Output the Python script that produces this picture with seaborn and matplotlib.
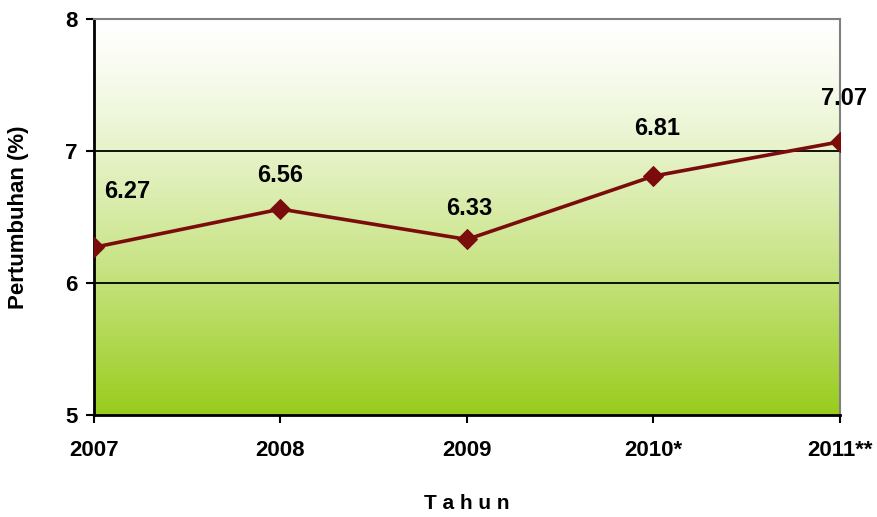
import numpy as np
import pandas as pd
import matplotlib
matplotlib.use("Agg")
import matplotlib.pyplot as plt
import seaborn as sns

years = ["2007", "2008", "2009", "2010*", "2011**"]
growth = [6.27, 6.56, 6.33, 6.81, 7.07]
yticks = [5, 6, 7, 8]

# label offsets in pixels (styling only)
label_dx = [33, 0, 2, 4, 4]
label_dy = [44, 22, 19, 36, 32]

sns.set_theme(style="white")
plt.rcParams["font.family"] = ["Liberation Sans", "DejaVu Sans"]
plt.rcParams["text.color"] = "black"
plt.rcParams["axes.labelcolor"] = "black"
plt.rcParams["xtick.color"] = "black"
plt.rcParams["ytick.color"] = "black"

df = pd.DataFrame({"x": np.arange(len(years)), "y": growth})

fig = plt.figure(figsize=(8.78, 5.17), dpi=100)
ax = fig.add_axes([94/878, 1-415/517, (840-94)/878, (415-19)/517])

# gradient background
grad = np.linspace(0, 1, 256)[:, None] ** 1.3
top = np.array([1.0, 1.0, 1.0])
bot = np.array([0.60, 0.80, 0.11])
img = top + (bot - top) * grad[..., None]
img = np.repeat(img, 2, axis=1)
ax.imshow(img, extent=[0, 1, 0, 1], transform=ax.transAxes, aspect="auto", zorder=0)

for g in [6, 7]:
    ax.axhline(g, color="black", lw=1.3, zorder=1)

sns.lineplot(data=df, x="x", y="y", ax=ax, color="#7B0C0C", lw=2.6,
             marker="D", markersize=10, markeredgecolor="#7B0C0C", zorder=3)

for i, v in enumerate(growth):
    ax.annotate(f"{v:.2f}", (i, v), xytext=(label_dx[i], label_dy[i]),
                textcoords="offset pixels", ha="center", va="bottom",
                fontsize=17, fontweight="bold", color="black")

ax.set_xlim(0, len(years) - 1)
ax.set_ylim(5, 8)
ax.set_xticks(range(len(years)))
ax.set_xticklabels(years, fontsize=16, fontweight="bold")
ax.set_yticks(yticks)
ax.set_yticklabels([str(t) for t in yticks], fontsize=16, fontweight="bold")
ax.tick_params(axis="both", direction="out", length=6, width=1.5, color="black", bottom=True, left=True)
ax.tick_params(axis="x", pad=12)
ax.tick_params(axis="y", pad=6)

for s in ["left", "bottom"]:
    ax.spines[s].set_color("black")
    ax.spines[s].set_linewidth(2)
for s in ["top", "right"]:
    ax.spines[s].set_color("#808080")
    ax.spines[s].set_linewidth(1.5)

ax.set_xlabel("T a h u n", fontsize=15, fontweight="bold", labelpad=24)
ax.set_ylabel("Pertumbuhan (%)", fontsize=16, fontweight="bold", labelpad=26)

fig.savefig("out.png", dpi=100)
